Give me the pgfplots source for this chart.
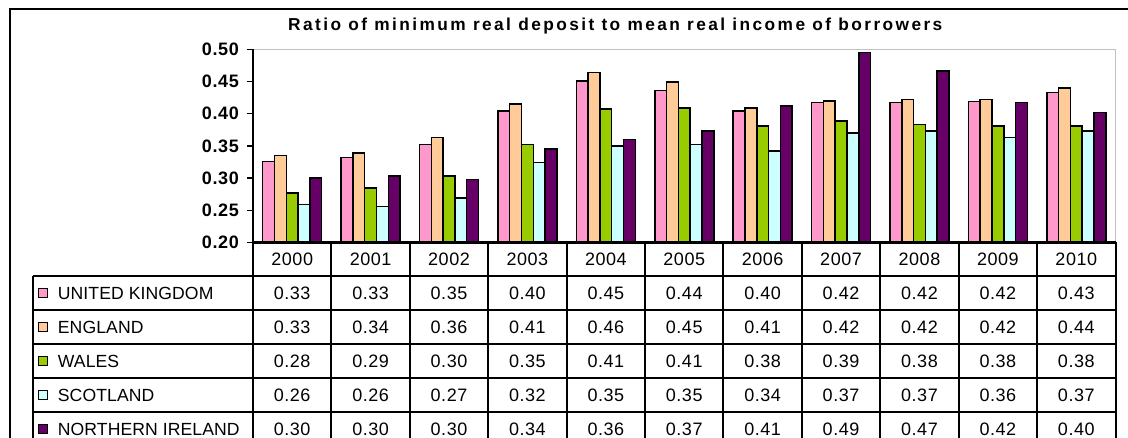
\documentclass[border=0pt]{standalone}
\usepackage{pgfplots}
\pgfplotsset{compat=1.18}
\usepackage{pgfplotstable}
\usepackage{fontspec}
\setmainfont{Liberation Sans}
\newfontfamily\titlef[LetterSpace=14]{Liberation Sans}
\newfontfamily\tickf[LetterSpace=4]{Liberation Sans}
\newfontfamily\numf[LetterSpace=3]{Liberation Sans}
\newfontfamily\legf[LetterSpace=0.5]{Liberation Sans}
\definecolor{cUK}{HTML}{FF99CC}
\definecolor{cEN}{HTML}{FFCC99}
\definecolor{cWA}{HTML}{99CC00}
\definecolor{cSC}{HTML}{CCFFFF}
\definecolor{cNI}{HTML}{660066}
\definecolor{pgray}{HTML}{C0C0C0}

\pgfplotstableread{
x  uk    eng   wal   sco   ni
0  0.326 0.335 0.277 0.259 0.300
1  0.332 0.339 0.285 0.256 0.303
2  0.352 0.363 0.303 0.269 0.298
3  0.404 0.415 0.352 0.324 0.345
4  0.451 0.464 0.407 0.350 0.360
5  0.436 0.449 0.409 0.352 0.373
6  0.404 0.409 0.381 0.342 0.412
7  0.417 0.420 0.389 0.370 0.495
8  0.417 0.422 0.383 0.373 0.466
9  0.419 0.422 0.381 0.363 0.417
10 0.433 0.440 0.381 0.373 0.402
}\bardata

\begin{document}
\begin{tikzpicture}[x=1pt,y=1pt]
\useasboundingbox (0,0) rectangle (1128,438);
\clip (0,0) rectangle (1128,438);
\fill[white] (0,0) rectangle (1128,438);
% outer frame
\draw[line width=2pt] (1140,429.3) -- (9.8,429.3) -- (9.8,-20);
% title
\node[anchor=base west, inner sep=0pt, font=\titlef\bfseries\fontsize{17.3}{20}\selectfont] at (288,407.3)
  {Ratio of minimum real deposit to mean real income of borrowers};
\begin{axis}[
  at={(253pt,195.5pt)}, anchor=south west,
  scale only axis, width=862.5pt, height=193.2pt,
  xmin=-0.5, xmax=10.5, ymin=0.2, ymax=0.5,
  ybar=0pt, bar width=11.8pt,
  axis line style={draw=none},
  xtick={0,1,2,3,4,5,6,7,8,9,10},
  xticklabels={2000,2001,2002,2003,2004,2005,2006,2007,2008,2009,2010},
  xtick style={draw=none},
  xticklabel style={font=\numf\fontsize{18}{21}\selectfont, anchor=center, yshift=-10pt, inner sep=0pt},
  ytick={0.2,0.25,0.3,0.35,0.4,0.45,0.5},
  ytick pos=left,
  yticklabel style={font=\tickf\bfseries\fontsize{18}{21}\selectfont, xshift=-4pt,
    /pgf/number format/.cd, fixed, fixed zerofill, precision=2, assume math mode=true},
  tick align=outside, major tick length=6.5pt,
  ytick style={black, line width=1.5pt},
]
\addplot[fill=cUK, draw=black, line width=1.5pt] table[x=x,y=uk]{\bardata};
\addplot[fill=cEN, draw=black, line width=1.5pt] table[x=x,y=eng]{\bardata};
\addplot[fill=cWA, draw=black, line width=1.5pt] table[x=x,y=wal]{\bardata};
\addplot[fill=cSC, draw=black, line width=1.5pt] table[x=x,y=sco]{\bardata};
\addplot[fill=cNI, draw=black, line width=1.5pt] table[x=x,y=ni]{\bardata};
\end{axis}
% plot area border
\draw[pgray, line width=1.5pt] (253,388.7) -- (1115.5,388.7) -- (1115.5,195.5);
% table grid
\foreach \k in {1,...,11} {\draw[line width=2pt] (253+\k*78.409,195.5) -- (253+\k*78.409,-20);}
\foreach \yy in {162,128,94,60,26} {\draw[line width=2pt] (33,\yy) -- (1115.5,\yy);}
\draw[line width=2pt] (33,162) -- (33,-20);
\draw[line width=2.2pt] (253,195.5) -- (1115.5,195.5);
\draw[line width=2.2pt] (253,388.7) -- (253,-20);
% table rows
\foreach \row/\name/\col/\vals in {
  0/UNITED KINGDOM/cUK/{0.33,0.33,0.35,0.40,0.45,0.44,0.40,0.42,0.42,0.42,0.43},
  1/ENGLAND/cEN/{0.33,0.34,0.36,0.41,0.46,0.45,0.41,0.42,0.42,0.42,0.44},
  2/WALES/cWA/{0.28,0.29,0.30,0.35,0.41,0.41,0.38,0.39,0.38,0.38,0.38},
  3/SCOTLAND/cSC/{0.26,0.26,0.27,0.32,0.35,0.35,0.34,0.37,0.37,0.36,0.37},
  4/NORTHERN IRELAND/cNI/{0.30,0.30,0.30,0.34,0.36,0.37,0.41,0.49,0.47,0.42,0.40}} {
  \pgfmathsetmacro\yc{162-(\row+0.5)*34}
  \filldraw[fill=\col, draw=black, line width=1pt] (38.3,\yc-4.5) rectangle (47.3,\yc+4.5);
  \node[anchor=west, inner sep=0pt, font=\legf\fontsize{17.6}{20}\selectfont] at (57.7,\yc) {\name};
  \foreach \v [count=\i from 0] in \vals {
    \node[inner sep=0pt, font=\numf\fontsize{18}{21}\selectfont] at (253+\i*78.409+39.2,\yc) {\v};
  }
}
\end{tikzpicture}
\end{document}
